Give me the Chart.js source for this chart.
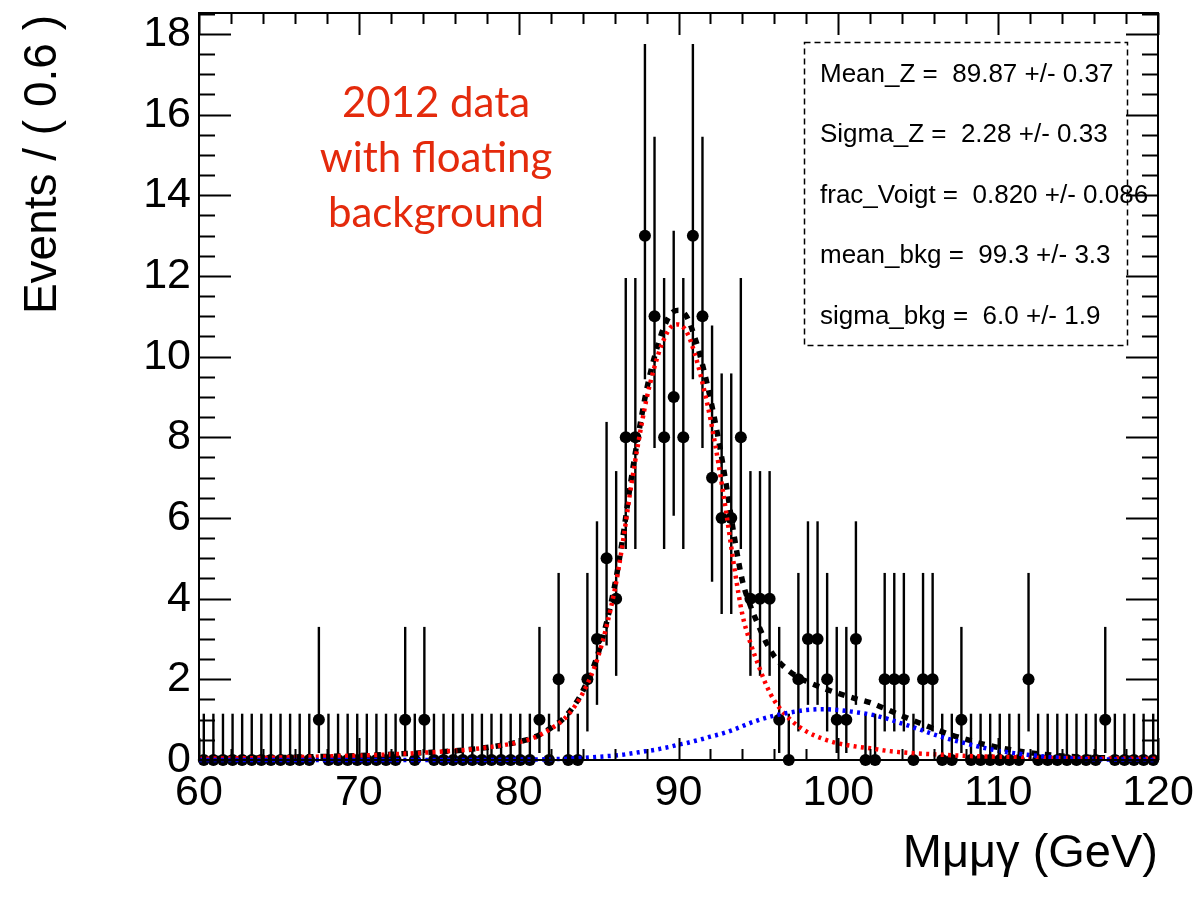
<!DOCTYPE html>
<html>
<head>
<meta charset="utf-8">
<title>M mumugamma fit</title>
<script src="https://cdn.jsdelivr.net/npm/chart.js@4/dist/chart.umd.min.js"></script>
<style>
  html, body { margin: 0; padding: 0; background: #ffffff; }
  #wrap { width: 1200px; height: 898px; }
</style>
</head>
<body>
<div id="wrap"><canvas id="chart" width="1200" height="898"></canvas></div>
<script>
// Histogram: 100 bins of 0.6 GeV between 60 and 120
const xMin = 60;
const xMax = 120;
const binWidth = 0.6;
const yMax = 18.52;

// events per bin (bin 0 = 60.0-60.6)
const counts = [
  0, 0, 0, 0, 0, 0, 0, 0, 0, 0,
  0, 0, 1, 0, 0, 0, 0, 0, 0, 0,
  0, 1, 0, 1, 0, 0, 0, 0, 0, 0,
  0, 0, 0, 0, 0, 1, 0, 2, 0, 0,
  2, 3, 5, 4, 8, 8, 13, 11, 8, 9,
  8, 13, 11, 7, 6, 6, 8, 4, 4, 4,
  1, 0, 2, 3, 3, 2, 1, 1, 3, 0,
  0, 2, 2, 2, 0, 2, 2, 0, 0, 1,
  0, 0, 0, 0, 0, 0, 2, 0, 0, 0,
  0, 0, 0, 0, 1, 0, 0, 0, 0, 0
];

// Poisson 68% interval ends, indexed by the bin count
const poissonLow  = [0, 0.173, 0.708, 1.367, 2.086, 2.840, 3.620, 4.419, 5.232, 6.057, 6.891, 7.733, 8.582, 9.437];
const poissonHigh = [1.148, 3.300, 4.638, 5.918, 7.163, 8.382, 9.584, 10.77, 11.95, 13.12, 14.29, 15.45, 16.60, 17.75];

// fitted curves
const curveX = [
  60, 62, 64, 66, 68, 70, 72, 74, 76, 78, 80, 81, 82, 83, 84, 85, 86,
  86.5, 87, 87.5, 88, 88.5, 89, 89.5, 90, 90.5, 91, 91.5, 92, 92.5, 93, 93.5, 94, 94.5, 95, 95.5, 96,
  97, 98, 99, 100, 101, 102, 103, 104, 105, 106, 107, 108, 109, 110, 111, 112,
  114, 116, 118, 120
];
const totalPdf = [
  0.03, 0.04, 0.05, 0.07, 0.09, 0.11, 0.14, 0.18, 0.23, 0.31, 0.45, 0.57, 0.79, 1.11, 1.70, 2.68, 4.31,
  5.48, 6.86, 8.09, 9.17, 10.0, 10.64, 11.05, 11.15, 11.0, 10.5, 9.8, 8.95, 7.95, 6.79, 5.51, 4.44, 3.82, 3.34, 2.90, 2.57,
  2.18, 1.95, 1.79, 1.65, 1.53, 1.42, 1.26, 1.09, 0.93, 0.77, 0.63, 0.51, 0.40, 0.31, 0.24, 0.18,
  0.10, 0.06, 0.045, 0.03
];
const signalPdf = [
  0.03, 0.04, 0.05, 0.07, 0.09, 0.11, 0.14, 0.18, 0.23, 0.31, 0.44, 0.56, 0.77, 1.08, 1.65, 2.60, 4.20,
  5.35, 6.70, 7.90, 8.95, 9.75, 10.35, 10.72, 10.80, 10.62, 10.10, 9.35, 8.45, 7.35, 6.10, 4.75, 3.60, 2.90, 2.35, 1.85, 1.47,
  1.00, 0.71, 0.53, 0.41, 0.34, 0.29, 0.23, 0.19, 0.16, 0.14, 0.12, 0.10, 0.09, 0.08, 0.07, 0.06,
  0.05, 0.04, 0.035, 0.03
];
const bkgPdf = [
  0, 0, 0, 0, 0, 0, 0, 0, 0, 0, 0.01, 0.01, 0.02, 0.03, 0.05, 0.08, 0.11,
  0.13, 0.16, 0.19, 0.22, 0.25, 0.29, 0.33, 0.38, 0.42, 0.47, 0.52, 0.58, 0.63, 0.69, 0.76, 0.84, 0.92, 0.99, 1.05, 1.10,
  1.18, 1.24, 1.26, 1.24, 1.19, 1.13, 1.03, 0.90, 0.77, 0.63, 0.51, 0.41, 0.31, 0.23, 0.17, 0.12,
  0.05, 0.02, 0.01, 0
];

const xTicks = [60, 70, 80, 90, 100, 110, 120];
const yTicks = [0, 2, 4, 6, 8, 10, 12, 14, 16, 18];

const fitParams = [
  'Mean_Z =  89.87 +/- 0.37',
  'Sigma_Z =  2.28 +/- 0.33',
  'frac_Voigt =  0.820 +/- 0.086',
  'mean_bkg =  99.3 +/- 3.3',
  'sigma_bkg =  6.0 +/- 1.9'
];
const noteLines = ['2012 data', 'with floating', 'background'];
const xTitle = 'M\u03bc\u03bc\u03b3 (GeV)';
const yTitle = 'Events / ( 0.6 )';

const FONT = '"Liberation Sans", Arial, Helvetica, sans-serif';

const binCenter = (i) => xMin + binWidth * (i + 0.5);

// error bars, frame with inward ticks, stat box and free text
const rootStyle = {
  id: 'rootStyle',
  beforeDatasetsDraw(chart) {
    const { ctx, scales: { x, y } } = chart;
    ctx.save();
    ctx.strokeStyle = '#000';
    ctx.lineWidth = 2.4;
    counts.forEach((n, i) => {
      const px = x.getPixelForValue(binCenter(i));
      ctx.beginPath();
      ctx.moveTo(px, y.getPixelForValue(poissonLow[n]));
      ctx.lineTo(px, y.getPixelForValue(poissonHigh[n]));
      ctx.stroke();
    });
    ctx.restore();
  },
  afterDatasetsDraw(chart) {
    const { ctx, chartArea: a, scales: { x, y } } = chart;
    ctx.save();

    // frame
    ctx.strokeStyle = '#000';
    ctx.lineWidth = 2;
    ctx.strokeRect(a.left, a.top, a.right - a.left, a.bottom - a.top);

    // y ticks, both sides
    for (let v = 0; v <= yMax; v += 0.5) {
      const py = Math.round(y.getPixelForValue(v)) + 0.5;
      const len = (v % 2 === 0) ? 32 : 16;
      ctx.beginPath();
      ctx.moveTo(a.left, py); ctx.lineTo(a.left + len, py);
      ctx.moveTo(a.right, py); ctx.lineTo(a.right - len, py);
      ctx.stroke();
    }
    // x ticks, bottom and top
    for (let v = xMin; v <= xMax; v += 2) {
      const px = Math.round(x.getPixelForValue(v)) + 0.5;
      const len = (v % 10 === 0) ? 22 : 11;
      ctx.beginPath();
      ctx.moveTo(px, a.bottom); ctx.lineTo(px, a.bottom - len);
      ctx.moveTo(px, a.top); ctx.lineTo(px, a.top + len);
      ctx.stroke();
    }

    // fit parameter box
    ctx.lineWidth = 1.5;
    ctx.setLineDash([6, 4]);
    ctx.strokeRect(804.5, 42.5, 323, 303);
    ctx.setLineDash([]);
    ctx.fillStyle = '#000';
    ctx.font = '26px ' + FONT;
    ctx.textAlign = 'left';
    ctx.textBaseline = 'alphabetic';
    fitParams.forEach((t, i) => ctx.fillText(t, 820, 82 + i * 60.4));

    // note
    ctx.fillStyle = '#e42a0c';
    ctx.font = '42px Lato, "Open Sans", sans-serif';
    ctx.textAlign = 'center';
    noteLines.forEach((t, i) => ctx.fillText(t, 436, 117 + i * 55));

    // axis titles
    ctx.fillStyle = '#000';
    ctx.font = '47px ' + FONT;
    ctx.textAlign = 'right';
    ctx.fillText(xTitle, 1158, 867);
    ctx.font = '46px ' + FONT;
    ctx.translate(56, 15);
    ctx.rotate(-Math.PI / 2);
    ctx.fillText(yTitle, 0, 0);

    ctx.restore();
  }
};

const tickFont = { family: FONT, size: 43 };

new Chart(document.getElementById('chart'), {
  type: 'scatter',
  data: {
    datasets: [
      {
        type: 'line',
        label: 'background',
        data: curveX.map((v, i) => ({ x: v, y: bkgPdf[i] })),
        borderColor: '#0000ff',
        borderWidth: 4.5,
        borderDash: [3, 4.3],
        pointRadius: 0,
        cubicInterpolationMode: 'monotone',
        fill: false,
        clip: false,
        order: 1
      },
      {
        type: 'line',
        label: 'signal',
        data: curveX.map((v, i) => ({ x: v, y: signalPdf[i] })),
        borderColor: '#ff0000',
        borderWidth: 4.5,
        borderDash: [3, 4.3],
        pointRadius: 0,
        cubicInterpolationMode: 'monotone',
        fill: false,
        clip: false,
        order: 2
      },
      {
        type: 'line',
        label: 'total',
        data: curveX.map((v, i) => ({ x: v, y: totalPdf[i] })),
        borderColor: '#000000',
        borderWidth: 5.5,
        borderDash: [6.5, 7],
        pointRadius: 0,
        cubicInterpolationMode: 'monotone',
        fill: false,
        clip: false,
        order: 3
      },
      {
        type: 'scatter',
        label: 'data',
        data: counts.map((n, i) => ({ x: binCenter(i), y: n })),
        pointRadius: 6,
        pointBackgroundColor: '#000',
        pointBorderWidth: 0,
        clip: false,
        order: 4
      }
    ]
  },
  options: {
    responsive: false,
    animation: false,
    devicePixelRatio: 1,
    layout: { padding: { top: 13, right: 42, left: 0, bottom: 0 } },
    plugins: { legend: { display: false }, tooltip: { enabled: false } },
    scales: {
      x: {
        type: 'linear',
        min: xMin,
        max: xMax,
        grid: { display: false, drawTicks: false },
        border: { display: false },
        afterBuildTicks: (s) => { s.ticks = xTicks.map((v) => ({ value: v })); },
        afterFit: (s) => { s.height = 138; s.paddingLeft = 0; s.paddingRight = 0; },
        ticks: { font: tickFont, color: '#000', padding: 7, maxRotation: 0, autoSkip: false }
      },
      y: {
        type: 'linear',
        min: 0,
        max: yMax,
        grid: { display: false, drawTicks: false },
        border: { display: false },
        afterBuildTicks: (s) => { s.ticks = yTicks.map((v) => ({ value: v })); },
        afterFit: (s) => { s.width = 199; s.paddingTop = 0; s.paddingBottom = 0; },
        ticks: { font: tickFont, color: '#000', padding: 8, autoSkip: false }
      }
    }
  },
  plugins: [rootStyle]
});
</script>
</body>
</html>
